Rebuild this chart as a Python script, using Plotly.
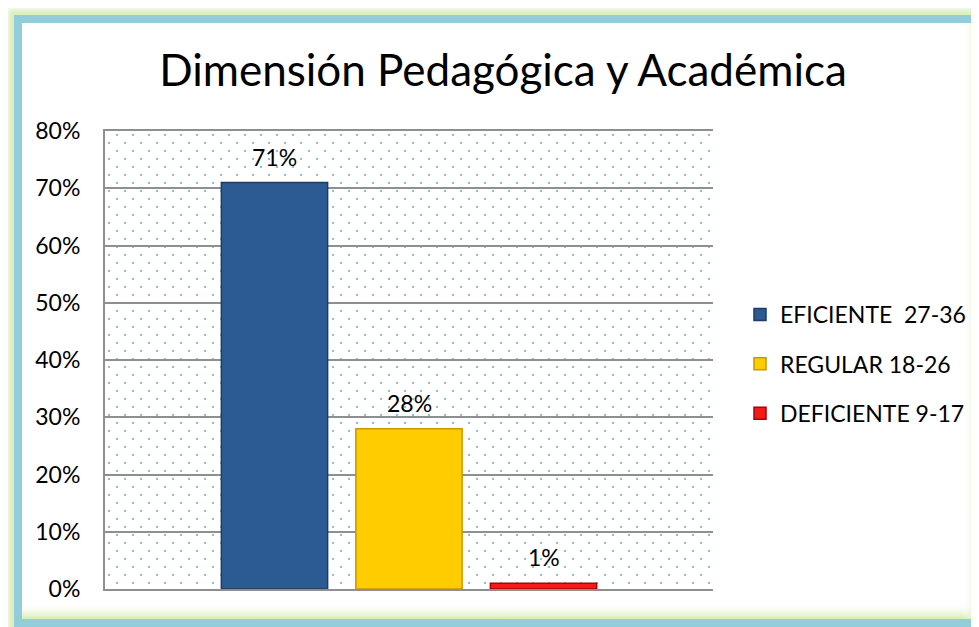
import base64
import plotly.graph_objects as go

# ---- data ----
series_names = ["EFICIENTE  27-36", "REGULAR 18-26", "DEFICIENTE 9-17"]
series_values = [71, 28, 1]
series_colors = ["#2C5A93", "#FFCC00", "#F21A1A"]
series_edges = ["#1D3C66", "#C99700", "#B00000"]
y_ticks = [0, 10, 20, 30, 40, 50, 60, 70, 80]
title_text = "Dimensión Pedagógica y Académica"

FIG_W, FIG_H = 979, 627
OFF = 8  # page body margin of the html page
L, T = 105 - OFF, 131 - OFF
W, H = 608, 458
R, B = FIG_W - L - W, FIG_H - T - H
FONT = "Lato"


def svg_uri(svg):
    return "data:image/svg+xml;base64," + base64.b64encode(svg.encode("utf-8")).decode("ascii")


def p(v):
    return v - OFF


frame_svg = f"""<svg xmlns="http://www.w3.org/2000/svg" width="{FIG_W}" height="{FIG_H}" viewBox="0 0 {FIG_W} {FIG_H}">
<defs>
<linearGradient id="gb" x1="0" y1="0" x2="0" y2="1"><stop offset="0" stop-color="#ffffff" stop-opacity="0"/><stop offset="1" stop-color="#D6EBB0"/></linearGradient>
<linearGradient id="gr" x1="0" y1="0" x2="1" y2="0"><stop offset="0" stop-color="#ffffff" stop-opacity="0"/><stop offset="1" stop-color="#D6EBB0"/></linearGradient>
<filter id="bl" x="-5%" y="-5%" width="110%" height="110%"><feGaussianBlur stdDeviation="2.5"/></filter>
</defs>
<rect width="{FIG_W}" height="{FIG_H}" fill="#ffffff"/>
<rect x="{p(8)}" y="{p(9)}" width="1000" height="700" fill="#DCEFBD" filter="url(#bl)"/>
<rect x="{p(14)}" y="{p(15)}" width="1000" height="700" fill="#92CDDC"/>
<rect x="{p(22)}" y="{p(23)}" width="1000" height="596" fill="#ffffff"/>
<rect x="{p(22)}" y="{p(603)}" width="1000" height="16" fill="url(#gb)"/>
<rect x="{p(962)}" y="{p(23)}" width="17" height="596" fill="url(#gr)"/>
</svg>"""

dots_svg = f"""<svg xmlns="http://www.w3.org/2000/svg" width="{W}" height="{H}" viewBox="0 0 {W} {H}">
<defs><pattern id="p" x="0" y="0" width="16" height="16" patternUnits="userSpaceOnUse">
<rect x="11" y="3" width="2" height="2" fill="#86C5D8"/>
<rect x="3" y="11" width="2" height="2" fill="#86C5D8"/>
</pattern></defs>
<rect width="{W}" height="{H}" fill="url(#p)"/>
</svg>"""

fig = go.Figure()
for i, (n, v) in enumerate(zip(series_names, series_values)):
    fig.add_trace(go.Bar(
        x=[n], y=[v], name=n, width=0.79,
        marker=dict(color=series_colors[i], line=dict(color=series_edges[i], width=1.5)),
        legendgroup=f"g{i}", hoverinfo="skip",
    ))
    fig.add_annotation(
        x=n, y=v, text=f"{v}%", showarrow=False, yanchor="bottom", yshift=10,
        font=dict(family=FONT, size=23, color="#000000"),
    )

fig.update_layout(
    width=FIG_W, height=FIG_H,
    margin=dict(l=L, r=R, t=T, b=B, autoexpand=False),
    paper_bgcolor="#ffffff", plot_bgcolor="#ffffff",
    font=dict(family=FONT, size=23, color="#000000"),
    barmode="overlay",
    title=dict(text=title_text, font=dict(family=FONT, size=44, color="#000000"),
               x=p(503) / FIG_W, xref="container", xanchor="center",
               y=1 - p(71) / FIG_H, yref="container", yanchor="middle"),
    showlegend=True,
    legend=dict(x=(p(740) - L) / W, xanchor="left", y=1 - (p(364) - T) / H, yanchor="middle",
                bgcolor="rgba(0,0,0,0)", tracegroupgap=16.5,
                font=dict(family=FONT, size=23, color="#000000")),
    xaxis=dict(type="category", categoryorder="array", categoryarray=series_names,
               range=[-1.26, 3.26], showticklabels=False, showgrid=False, zeroline=False,
               showline=True, mirror=True, linecolor="#8F8F8F", linewidth=2, ticks=""),
    yaxis=dict(range=[0, 80], tickvals=y_ticks, ticktext=[f"{t}%" for t in y_ticks],
               showgrid=True, gridcolor="#8F8F8F", gridwidth=2, zeroline=False,
               showline=True, linecolor="#8F8F8F", linewidth=2,
               ticks="outside", ticklen=18, tickcolor="rgba(0,0,0,0)",
               tickfont=dict(family=FONT, size=23, color="#000000")),
    images=[
        dict(source=svg_uri(frame_svg), xref="paper", yref="paper",
             x=-L / W, y=1 + T / H, sizex=FIG_W / W, sizey=FIG_H / H,
             xanchor="left", yanchor="top", sizing="stretch", layer="below"),
        dict(source=svg_uri(dots_svg), xref="paper", yref="paper",
             x=0, y=1, sizex=1, sizey=1,
             xanchor="left", yanchor="top", sizing="stretch", layer="below"),
    ],
)

fig.write_html("out.html")
